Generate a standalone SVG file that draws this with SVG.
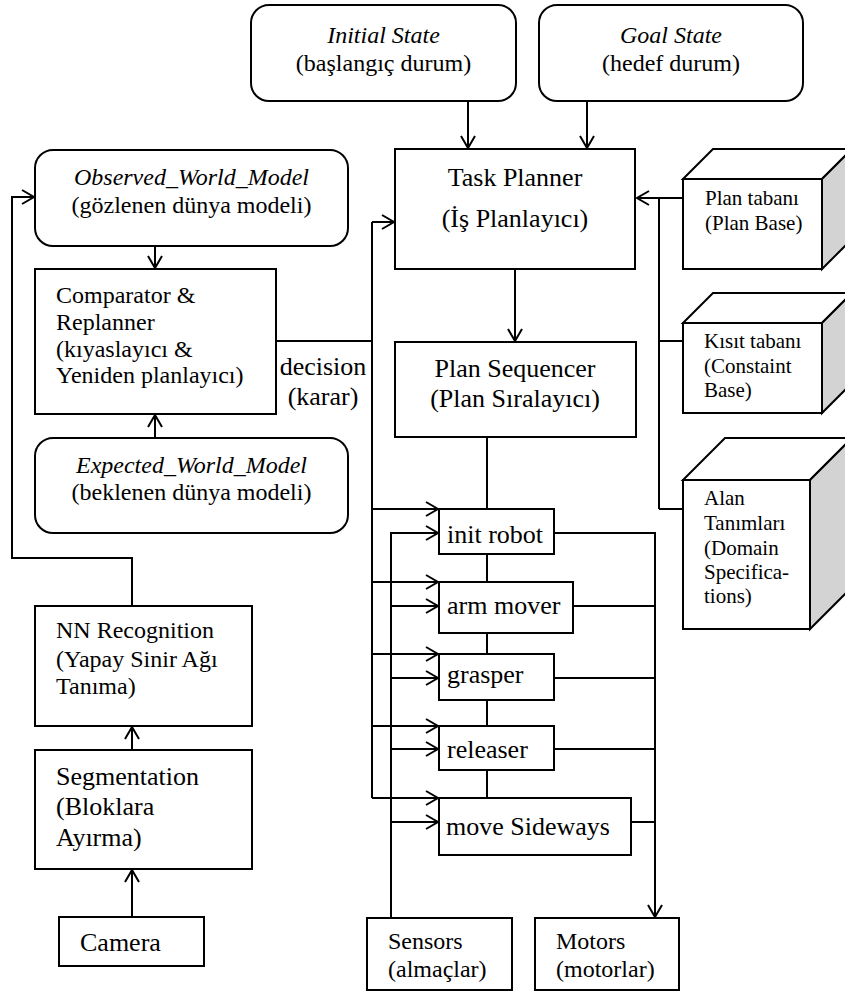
<svg xmlns="http://www.w3.org/2000/svg" width="845" height="994" viewBox="0 0 845 994" font-family="'Liberation Serif', 'Times New Roman', 'DejaVu Serif', serif">
<defs>
<marker id="a" markerWidth="16" markerHeight="18" refX="12" refY="7" orient="auto" markerUnits="userSpaceOnUse" overflow="visible">
<path d="M0,0 L12,7 L0,14" fill="none" stroke="#000" stroke-width="2"/>
</marker>
</defs>
<style>
.b{fill:#fff;stroke:#000;stroke-width:2}
.c{fill:none;stroke:#000;stroke-width:2}
.ar{marker-end:url(#a)}
.s{fill:#d3d3d3;stroke:#000;stroke-width:2;stroke-linejoin:miter}
text{font-family:'Liberation Serif','Times New Roman','DejaVu Serif',serif;fill:#000}
.f26{font-size:26px}
.f24{font-size:24px}
.f21{font-size:21px}
.i{font-style:italic}
.m{text-anchor:middle}
</style>
<rect width="845" height="994" fill="#fff"/>

<g id="connectors">
<path class="c ar" d="M468,101 V148"/>
<path class="c ar" d="M587,101 V148"/>
<path class="c ar" d="M515,269 V341"/>
<path class="c" d="M487,437 V509"/>
<path class="c" d="M487,554 V582 M487,633 V654 M487,700 V726 M487,770 V798"/>
<path class="c ar" d="M683,198 H637"/>
<path class="c" d="M659,198 V509 M659,341 H683 M659,509 H683"/>
<path class="c ar" d="M155,246 V268"/>
<path class="c ar" d="M155,438 V415"/>
<path class="c" d="M276,341 H372 M372,798 V222"/>
<path class="c ar" d="M372,222 H394"/>
<path class="c ar" d="M372,509 H438"/>
<path class="c ar" d="M372,582 H438"/>
<path class="c ar" d="M372,654 H438"/>
<path class="c ar" d="M372,726 H438"/>
<path class="c ar" d="M372,798 H438"/>
<path class="c ar" d="M391,918 V533 H438"/>
<path class="c ar" d="M391,606 H438"/>
<path class="c ar" d="M391,678 H438"/>
<path class="c ar" d="M391,749 H438"/>
<path class="c ar" d="M391,822 H438"/>
<path class="c ar" d="M554,533 H655 V917"/>
<path class="c" d="M573,606 H655 M554,678 H655 M554,749 H655 M631,822 H655"/>
<path class="c ar" d="M132,917 V870"/>
<path class="c ar" d="M132,750 V727"/>
<path class="c ar" d="M132,606 V558 H12 V197 H34"/>
</g>

<g id="initial-state">
<rect class="b" x="251" y="5" width="265" height="96" rx="18"/>
<text class="f24 i m" x="383.5" y="43">Initial State</text>
<text class="f24 m" x="383.5" y="71">(başlangıç durum)</text>
</g>
<g id="goal-state">
<rect class="b" x="539" y="5" width="264" height="96" rx="18"/>
<text class="f24 i m" x="671" y="43">Goal State</text>
<text class="f24 m" x="671" y="71">(hedef durum)</text>
</g>
<g id="task-planner">
<rect class="b" x="395" y="149" width="240" height="120"/>
<text class="f26 m" x="515" y="186">Task Planner</text>
<text class="f26 m" x="515" y="227">(İş Planlayıcı)</text>
</g>
<g id="plan-sequencer">
<rect class="b" x="395" y="342" width="241" height="95"/>
<text class="f26 m" x="515" y="377">Plan Sequencer</text>
<text class="f26 m" x="515" y="407">(Plan Sıralayıcı)</text>
</g>
<g id="observed-world-model">
<rect class="b" x="35" y="150" width="313" height="96" rx="18"/>
<text class="f24 i m" x="191.5" y="185">Observed_World_Model</text>
<text class="f24 m" x="191.5" y="213">(gözlenen dünya modeli)</text>
</g>
<g id="comparator">
<rect class="b" x="35" y="269" width="241" height="145"/>
<text class="f24" x="56" y="303">Comparator &amp;</text>
<text class="f24" x="56" y="330">Replanner</text>
<text class="f24" x="56" y="357">(kıyaslayıcı &amp;</text>
<text class="f24" x="56" y="383">Yeniden planlayıcı)</text>
</g>
<g id="decision-label">
<text class="f26 m" x="323" y="375">decision</text>
<text class="f26 m" x="323" y="405">(karar)</text>
</g>
<g id="expected-world-model">
<rect class="b" x="35" y="438" width="313" height="95" rx="18"/>
<text class="f24 i m" x="191.5" y="473">Expected_World_Model</text>
<text class="f24 m" x="191.5" y="500">(beklenen dünya modeli)</text>
</g>
<g id="nn-recognition">
<rect class="b" x="35" y="606" width="217" height="120"/>
<text class="f24" x="56" y="638">NN Recognition</text>
<text class="f24" x="56" y="667">(Yapay Sinir Ağı</text>
<text class="f24" x="56" y="694">Tanıma)</text>
</g>
<g id="segmentation">
<rect class="b" x="35" y="750" width="217" height="119"/>
<text class="f26" x="56" y="785">Segmentation</text>
<text class="f26" x="56" y="815">(Bloklara</text>
<text class="f26" x="56" y="846">Ayırma)</text>
</g>
<g id="camera">
<rect class="b" x="59" y="917" width="145" height="49"/>
<text class="f26" x="80" y="951">Camera</text>
</g>
<g id="init-robot">
<rect class="b" x="439" y="509" width="115" height="45"/>
<text class="f26" x="447" y="543">init robot</text>
</g>
<g id="arm-mover">
<rect class="b" x="439" y="582" width="134" height="51"/>
<text class="f26" x="447" y="614">arm mover</text>
</g>
<g id="grasper">
<rect class="b" x="439" y="654" width="115" height="46"/>
<text class="f26" x="447" y="683">grasper</text>
</g>
<g id="releaser">
<rect class="b" x="439" y="726" width="115" height="44"/>
<text class="f26" x="447" y="758">releaser</text>
</g>
<g id="move-sideways">
<rect class="b" x="439" y="798" width="192" height="57"/>
<text class="f26" x="446" y="835">move Sideways</text>
</g>
<g id="sensors">
<rect class="b" x="367" y="918" width="145" height="72"/>
<text class="f24" x="388" y="949">Sensors</text>
<text class="f24" x="388" y="977">(almaçlar)</text>
</g>
<g id="motors">
<rect class="b" x="535" y="918" width="144" height="72"/>
<text class="f24" x="556" y="949">Motors</text>
<text class="f24" x="556" y="977">(motorlar)</text>
</g>
<g id="plan-base">
<polygon class="b" points="683,179 713,149 852,149 822,179"/>
<polygon class="s" points="822,179 852,149 852,239 822,269"/>
<rect class="b" x="683" y="179" width="139" height="90"/>
<text class="f21" x="705" y="205">Plan tabanı</text>
<text class="f21" x="705" y="230">(Plan Base)</text>
</g>
<g id="constraint-base">
<polygon class="b" points="683,323 713,293 852,293 822,323"/>
<polygon class="s" points="822,323 852,293 852,383 822,413"/>
<rect class="b" x="683" y="323" width="139" height="90"/>
<text class="f21" x="704" y="348">Kısıt tabanı</text>
<text class="f21" x="704" y="373">(Constaint</text>
<text class="f21" x="704" y="397">Base)</text>
</g>
<g id="domain-specifications">
<polygon class="b" points="683,480 725,438 852,438 810,480"/>
<polygon class="s" points="810,480 852,438 852,587 810,629"/>
<rect class="b" x="683" y="480" width="127" height="149"/>
<text class="f21" x="704" y="505">Alan</text>
<text class="f21" x="704" y="530">Tanımları</text>
<text class="f21" x="704" y="555">(Domain</text>
<text class="f21" x="704" y="579">Specifica-</text>
<text class="f21" x="704" y="603">tions)</text>
</g>
</svg>
